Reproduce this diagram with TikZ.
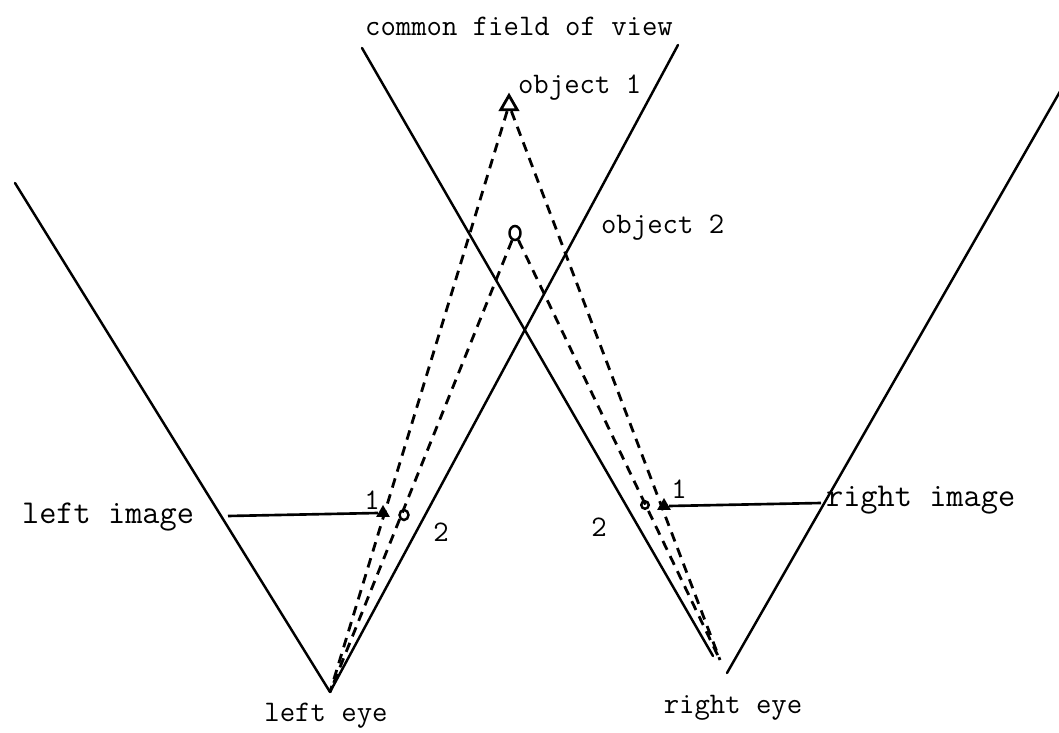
\documentclass[tikz,border=0pt]{standalone}
\usepackage{tikz}
\usetikzlibrary{shapes.geometric,positioning}

\tikzset{
  sightline/.style={line width=1.4pt, line cap=round},
  rayline/.style={line width=1.6pt, dash pattern=on 5.5pt off 4pt},
  txt/.style={font=\fontsize{17}{20}\selectfont\ttfamily, inner sep=1pt},
  bigtxt/.style={font=\fontsize{19}{22}\selectfont\ttfamily, inner sep=1pt},
  objtri/.style={regular polygon, regular polygon sides=3, draw, line width=1.6pt,
    minimum size=0.38cm, inner sep=0pt},
  imgtri/.style={regular polygon, regular polygon sides=3, fill=black,
    minimum size=0.32cm, inner sep=0pt},
  ring/.style={ellipse, draw, line width=1.4pt, inner sep=0pt}
}

\begin{document}
\begin{tikzpicture}[x=0.02cm, y=-0.02cm]
      \useasboundingbox (0,0) rectangle (1059,733);

      % eyes and the ends of their fields of view
      \coordinate (leye) at (330,692);
      \coordinate (reye) at (720,660);
      \coordinate (lout) at (15,183);
      \coordinate (lin) at (678,45);
      \coordinate (rinlow) at (713,656);
      \coordinate (rin) at (362,48);
      \coordinate (routlow) at (727,673);
      \coordinate (rout) at (1062,88);

      \draw[sightline] (leye) -- (lout);
      \draw[sightline] (leye) -- (lin);
      \draw[sightline] (rinlow) -- (rin);
      \draw[sightline] (routlow) -- (rout);

      % objects
      \node[objtri] (obj1) at (509,105) {};
      \node[ring, minimum width=0.22cm, minimum height=0.28cm] (obj2) at (515,233) {};

      % rays from the objects to the eyes
      \draw[rayline] (obj1) -- (leye);
      \draw[rayline] (obj1) -- (reye);
      \draw[rayline] (obj2) -- (leye);
      \draw[rayline] (obj2) -- (reye);

      % images
      \node[imgtri] (limg1) at (383,513) {};
      \node[ring, minimum width=0.18cm, minimum height=0.2cm] (limg2) at (404,515) {};
      \node[imgtri] (rimg1) at (664,506) {};
      \node[ring, minimum width=0.15cm, minimum height=0.15cm] (rimg2) at (645,505) {};

      \coordinate (lfoot) at (228,516);
      \coordinate (rfoot) at (821,503);
      \draw[line width=1.5pt] (lfoot) -- (limg1.west);
      \draw[line width=1.5pt] (rimg1.east) -- (rfoot);

      \node[txt] (l1) at (372,500) {1};
      \node[txt] (l2) at (441,532) {2};
      \node[txt] (r1) at (679,489) {1};
      \node[txt] (r2) at (599,527) {2};

      % labels
      \node[txt] (title) at (519,26) {common field of view};
      \node[txt, anchor=west] (o1) at (516,88) {object 1};
      \node[txt, anchor=west] (o2) at (599,228) {object 2};
      \node[bigtxt, anchor=west] (limg) at (20,517) {left image};
      \node[bigtxt, anchor=west] (rimg) at (824,500) {right image};
      \node[txt] (leyelbl) at (326,716) {left eye};
      \node[txt] (reyelbl) at (733,708) {right eye};

\end{tikzpicture}
\end{document}
